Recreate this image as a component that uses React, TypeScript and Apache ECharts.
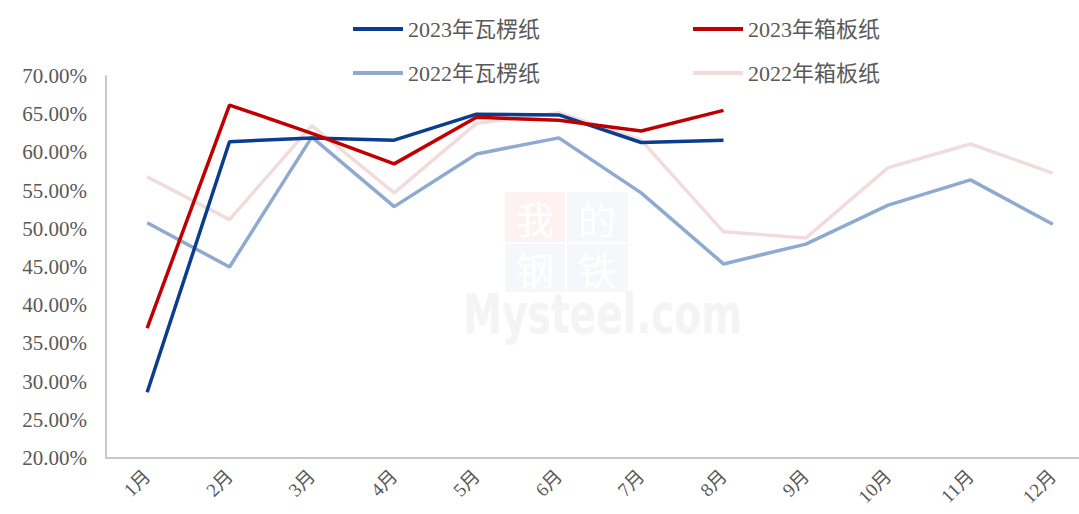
import React, { useEffect, useRef } from "react";
import * as echarts from "echarts";

const months = ["1月", "2月", "3月", "4月", "5月", "6月", "7月", "8月", "9月", "10月", "11月", "12月"];
const yTicks = { min: 20, max: 70, interval: 5 };

const corrugated2023 = [28.6, 61.4, 61.9, 61.6, 65.0, 64.9, 61.3, 61.6];
const board2023 = [37.0, 66.2, 62.5, 58.5, 64.6, 64.2, 62.8, 65.5];
const corrugated2022 = [50.8, 45.0, 62.0, 52.9, 59.8, 61.9, 54.7, 45.4, 48.0, 53.1, 56.4, 50.6];
const board2022 = [56.8, 51.2, 63.5, 54.7, 63.8, 65.2, 61.6, 49.6, 48.8, 58.0, 61.1, 57.3];

const names = ["2023年瓦楞纸", "2023年箱板纸", "2022年瓦楞纸", "2022年箱板纸"];
const colors = ["#0a3d8f", "#c00000", "#8eaad0", "#f2dcdb"];

export default function App() {
  const ref = useRef<HTMLDivElement>(null);
  useEffect(() => {
    if (!ref.current) return;
    const chart = echarts.init(ref.current, null, { renderer: "svg" });
    const textColor = "#595959";
    const legendPos = [
      { left: 348, top: 13 },
      { left: 688, top: 13 },
      { left: 348, top: 57 },
      { left: 688, top: 57 },
    ];
    const wmFill = "#ffffff";
    const wmFont = "38px 'Noto Sans CJK SC'";
    chart.setOption({
      animation: false,
      backgroundColor: "#ffffff",
      graphic: [
        { type: "rect", z: -10, silent: true, shape: { x: 505, y: 192, width: 60, height: 50 }, style: { fill: "#fdf1f1" } },
        { type: "rect", z: -10, silent: true, shape: { x: 567, y: 192, width: 61, height: 50 }, style: { fill: "#f5f7fa" } },
        { type: "rect", z: -10, silent: true, shape: { x: 505, y: 244, width: 60, height: 48 }, style: { fill: "#f5f7fa" } },
        { type: "rect", z: -10, silent: true, shape: { x: 567, y: 244, width: 61, height: 48 }, style: { fill: "#f5f7fa" } },
        { type: "text", z: -9, silent: true, x: 535, y: 217, style: { text: "我", fill: wmFill, font: wmFont, align: "center", verticalAlign: "middle" } },
        { type: "text", z: -9, silent: true, x: 597, y: 217, style: { text: "的", fill: wmFill, font: wmFont, align: "center", verticalAlign: "middle" } },
        { type: "text", z: -9, silent: true, x: 535, y: 268, style: { text: "钢", fill: wmFill, font: wmFont, align: "center", verticalAlign: "middle" } },
        { type: "text", z: -9, silent: true, x: 597, y: 268, style: { text: "铁", fill: wmFill, font: wmFont, align: "center", verticalAlign: "middle" } },
        { type: "text", z: -9, silent: true, x: 463, y: 313, scaleX: 0.7, style: { text: "Mysteel.com", fill: "#f4f4f4", font: "bold 56px 'DejaVu Sans'", verticalAlign: "middle" } },
      ],
      legend: names.map((n, i) => ({
        data: [n],
        left: legendPos[i].left,
        top: legendPos[i].top,
        icon: "rect",
        itemWidth: 50,
        itemHeight: 4,
        itemGap: 6,
        textStyle: { color: textColor, fontSize: 22, fontFamily: "'Liberation Serif', 'Noto Sans CJK SC'" },
      })),
      grid: { left: 106, top: 76, width: 988, height: 382, containLabel: false, outerBoundsMode: "none" },
      xAxis: {
        type: "category",
        data: months,
        boundaryGap: true,
        axisLine: { show: true, lineStyle: { color: "#c8c8c8", width: 2 } },
        axisTick: { show: false },
        axisLabel: {
          rotate: 45,
          margin: 15,
          color: textColor,
          fontSize: 19,
          fontFamily: "'Liberation Serif', 'Noto Sans CJK SC'",
          interval: 0,
        },
      },
      yAxis: {
        type: "value",
        min: yTicks.min,
        max: yTicks.max,
        interval: yTicks.interval,
        axisLine: { show: true, lineStyle: { color: "#c8c8c8", width: 2 } },
        axisTick: { show: false },
        splitLine: { show: false },
        axisLabel: {
          margin: 19,
          color: textColor,
          fontSize: 21,
          fontFamily: "'Liberation Serif'",
          formatter: (v: number) => v.toFixed(2) + "%",
        },
      },
      series: [
        { name: names[3], type: "line", data: board2022, symbol: "none", lineStyle: { color: colors[3], width: 3.5 }, itemStyle: { color: colors[3] }, z: 2 },
        { name: names[2], type: "line", data: corrugated2022, symbol: "none", lineStyle: { color: colors[2], width: 3.5 }, itemStyle: { color: colors[2] }, z: 3 },
        { name: names[0], type: "line", data: corrugated2023, symbol: "none", lineStyle: { color: colors[0], width: 3.5 }, itemStyle: { color: colors[0] }, z: 4 },
        { name: names[1], type: "line", data: board2023, symbol: "none", lineStyle: { color: colors[1], width: 3.5 }, itemStyle: { color: colors[1] }, z: 5 },
      ],
    });
    return () => chart.dispose();
  }, []);
  return <div ref={ref} style={{ width: 1079, height: 514, position: "absolute", left: 0, top: 0 }} />;
}
